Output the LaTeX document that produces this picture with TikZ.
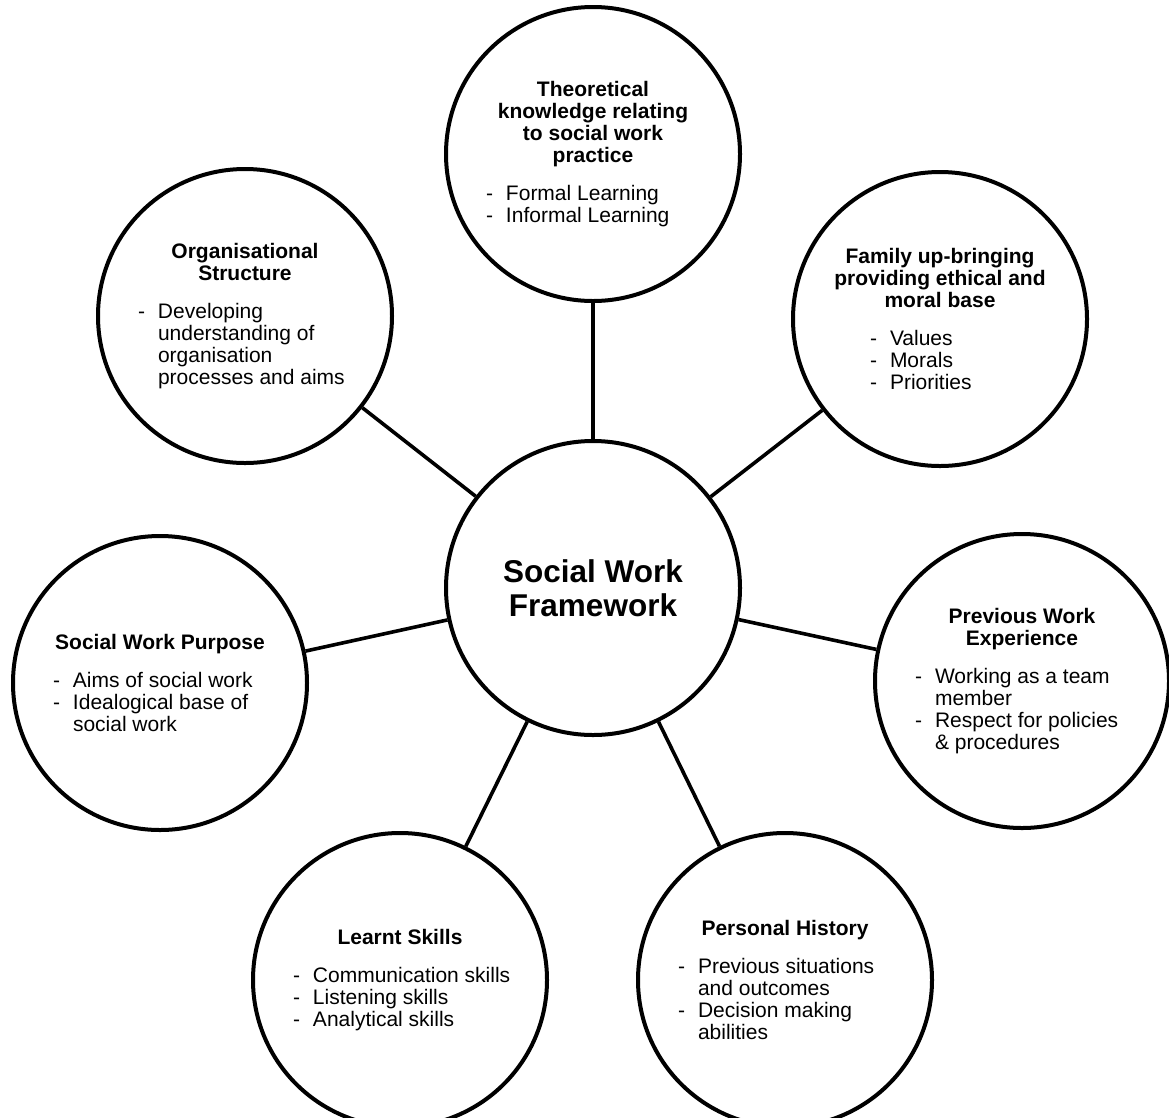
\documentclass[tikz,border=0pt]{standalone}
\usepackage{fontspec}
\setmainfont{Liberation Sans}
\tikzstyle{topic} = [circle, draw=black, line width=4pt, minimum size=294pt, inner sep=0pt, font=\fontsize{21pt}{22pt}\selectfont]
\tikzstyle{hub} = [topic, font=\fontsize{31.5pt}{34pt}\selectfont\bfseries, align=center]
\tikzstyle{link} = [line width=3.6pt]
% one dash item with hanging indent
\newcommand{\point}[1]{\par\hangindent=20pt\hangafter=1\noindent\makebox[20pt][l]{-}#1}
% bold centred heading, then the dash items (\\ only breaks the line there)
\newcommand{\topictext}[3][13pt]{\parbox{240pt}{\centering{\bfseries #2\par}\vspace{16pt}\raggedright\leftskip=#1\relax\let\\\newline #3\par}}

\begin{document}
\begin{tikzpicture}[x=1pt, y=-1pt]
  \useasboundingbox (0,0) rectangle (1169,1117);
  \node (hub)[hub] at (593,588) {Social Work\\Framework};
  \node (theory)[topic] at (593,154) {\topictext{Theoretical\\knowledge relating\\to social work\\practice}{\point{Formal Learning}\point{Informal Learning}}};
  \node (orgstruct)[topic] at (245,316) {\topictext{Organisational\\Structure}{\point{Developing\\understanding of\\organisation\\processes and aims}}};
  \node (family)[topic] at (940,319) {\topictext[50pt]{Family up-bringing\\providing ethical and\\moral base}{\point{Values}\point{Morals}\point{Priorities}}};
  \node (purpose)[topic] at (160,683) {\topictext{Social Work Purpose}{\point{Aims of social work}\point{Idealogical base of\\social work}}};
  \node (workexp)[topic] at (1022,681) {\topictext{Previous Work\\Experience}{\point{Working as a team\\member}\point{Respect for policies\\\& procedures}}};
  \node (skills)[topic] at (400,980) {\topictext{Learnt Skills}{\point{Communication skills}\point{Listening skills}\point{Analytical skills}}};
  \node (history)[topic] at (785,980) {\topictext{Personal History}{\point{Previous situations\\and outcomes}\point{Decision making\\abilities}}};
  \draw[link] (hub)--(theory);
  \draw[link] (hub)--(orgstruct);
  \draw[link] (hub)--(family);
  \draw[link] (hub)--(purpose);
  \draw[link] (hub)--(workexp);
  \draw[link] (hub)--(skills);
  \draw[link] (hub)--(history);
\end{tikzpicture}
\end{document}
